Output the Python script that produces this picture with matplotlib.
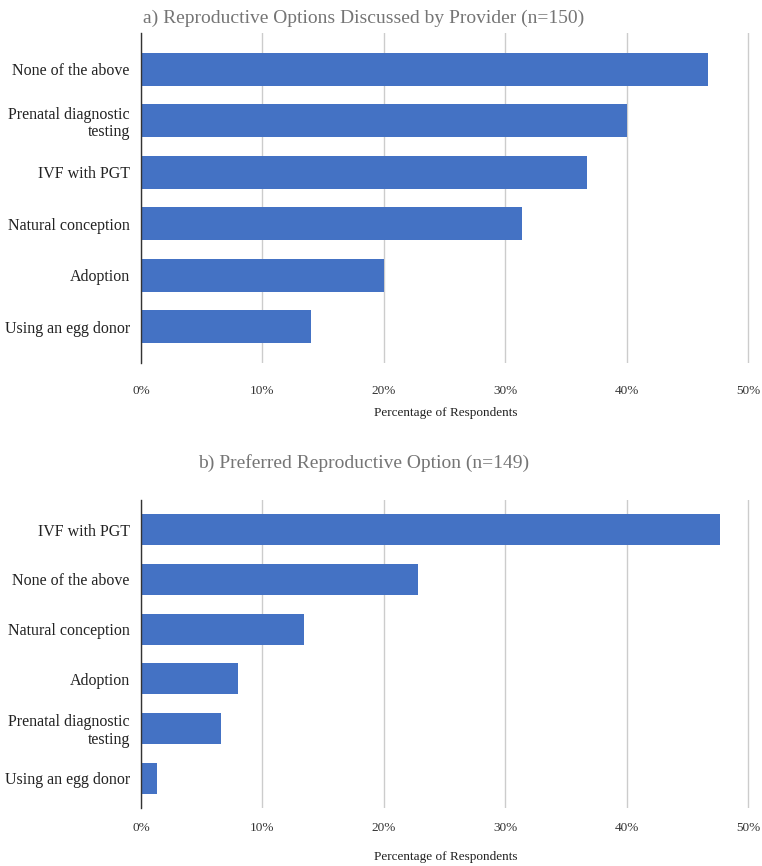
import numpy as np
import matplotlib.pyplot as plt
from matplotlib.ticker import FuncFormatter

# a) options discussed by provider (n=150), top to bottom
labels_a = ["None of the above", "Prenatal diagnostic\ntesting", "IVF with PGT",
            "Natural conception", "Adoption", "Using an egg donor"]
values_a = [46.7, 40.0, 36.7, 31.4, 20.0, 14.0]

# b) preferred option (n=149), top to bottom
labels_b = ["IVF with PGT", "None of the above", "Natural conception",
            "Adoption", "Prenatal diagnostic\ntesting", "Using an egg donor"]
values_b = [47.7, 22.8, 13.4, 8.0, 6.6, 1.3]

ticks = [0, 10, 20, 30, 40, 50]
bar_color = "#4472C4"
serif = ["Liberation Serif", "DejaVu Serif"]

plt.rcParams["font.family"] = serif

fig = plt.figure(figsize=(7.62, 8.66), dpi=100)


def draw(ax, labels, values, height, pad, ylim):
    y = np.arange(len(labels))[::-1]
    ax.barh(y, values, height=height, color=bar_color, zorder=3)
    ax.set_xlim(0, 50.2)
    ax.set_ylim(*ylim)
    ax.set_xticks(ticks)
    ax.xaxis.set_major_formatter(FuncFormatter(lambda v, p: "%d%%" % v))
    ax.set_yticks(y)
    ax.set_yticklabels(labels, fontsize=11.5, color="#222222", linespacing=1.15)
    ax.tick_params(axis="x", length=0, pad=pad, labelsize=9.5, labelcolor="#333333")
    ax.tick_params(axis="y", length=0, pad=8)
    ax.grid(axis="x", color="#cccccc", linewidth=1, zorder=0)
    for s in ["top", "right", "bottom"]:
        ax.spines[s].set_visible(False)
    ax.spines["left"].set_color("#333333")
    ax.spines["left"].set_linewidth(1)
    ax.spines["left"].set_zorder(4)


ax1 = fig.add_axes([0.185, 0.5808, 0.800, 0.3811])
draw(ax1, labels_a, values_a, 0.64, 16, (-0.7, 5.7))
ax1.set_xlabel("Percentage of Respondents", fontsize=9.5, color="#222222", labelpad=7)

ax2 = fig.add_axes([0.185, 0.0670, 0.800, 0.3557])
draw(ax2, labels_b, values_b, 0.62, 10, (-0.6, 5.6))
ax2.set_xlabel("Percentage of Respondents", fontsize=9.5, color="#222222", labelpad=12)

fig.text(0.477, 0.979, "a) Reproductive Options Discussed by Provider (n=150)",
         ha="center", va="center", fontsize=14, color="#757575")
fig.text(0.477, 1 - 463 / 866, "b) Preferred Reproductive Option (n=149)",
         ha="center", va="center", fontsize=14, color="#757575")

plt.savefig("out.png", dpi=100)
